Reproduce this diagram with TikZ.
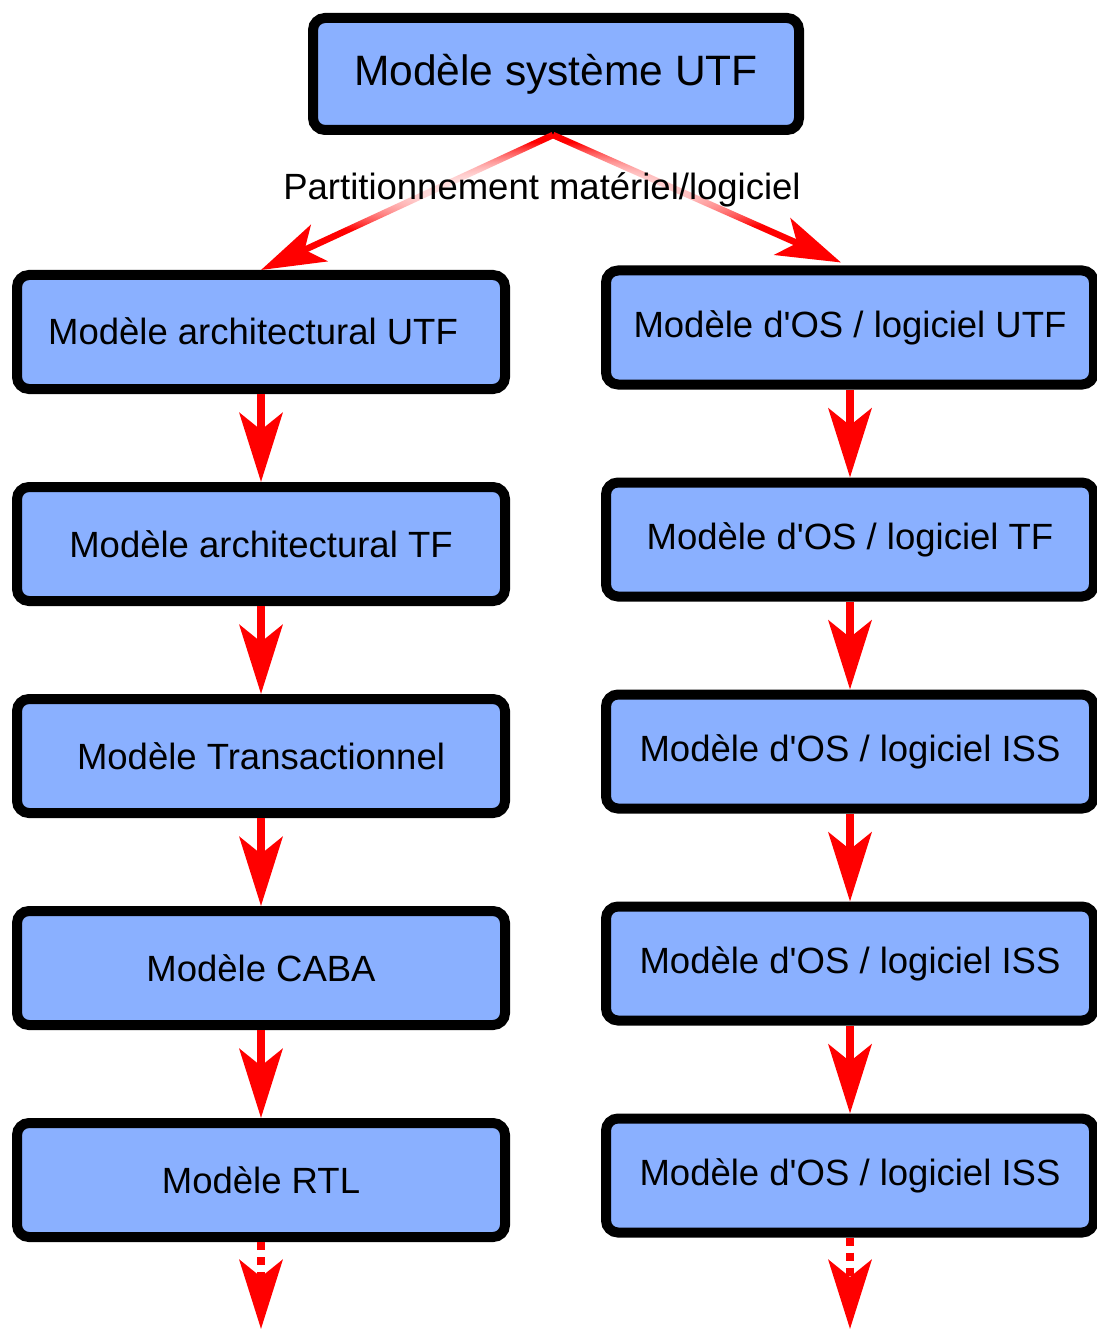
\documentclass[tikz,border=0pt]{standalone}
\usepackage{fontspec}
\setmainfont{Liberation Sans}
\usetikzlibrary{arrows.meta,fadings}
\definecolor{boxblue}{RGB}{138,176,255}
\tikzfading[name=halo, inner color=transparent!0, outer color=transparent!100]
\begin{document}
\begin{tikzpicture}[x=1pt,y=-1pt,
  box/.style={draw=black, line width=10pt, fill=boxblue, rounded corners=12pt,
    minimum width=488pt, minimum height=114pt, inner sep=0pt,
    font=\fontsize{36.5}{40}\selectfont},
  flow/.style={draw=red, line width=8pt,
    -{Stealth[length=69pt,width=43pt,inset=17pt]}},
  diag/.style={draw=red, line width=6.5pt,
    -{Stealth[length=64pt,width=40pt,inset=16pt]}},
  more/.style={flow, dash pattern=on 8pt off 7pt}]
\useasboundingbox (0,0) rectangle (1096,1329);
% top
\node[box, minimum width=486pt, minimum height=112pt, font=\fontsize{42.5}{46}\selectfont] (top) at (556,74) {Modèle système UTF};
% left column
\node[box, label={[font=\fontsize{36.5}{40}\selectfont, xshift=-8pt, yshift=1pt]center:Modèle architectural UTF}] (l1) at (261,332) {};
\node[box] (l2) at (261,544) {Modèle architectural TF};
\node[box] (l3) at (261,756) {Modèle Transactionnel};
\node[box] (l4) at (261,968) {Modèle CABA};
\node[box] (l5) at (261,1180) {Modèle RTL};
% right column
\node[box] (r1) at (850,327.5) {Modèle d\textquotesingle OS / logiciel UTF};
\node[box] (r2) at (850,539.5) {Modèle d\textquotesingle OS / logiciel TF};
\node[box] (r3) at (850,751.5) {Modèle d\textquotesingle OS / logiciel ISS};
\node[box] (r4) at (850,963.5) {Modèle d\textquotesingle OS / logiciel ISS};
\node[box] (r5) at (850,1175.5) {Modèle d\textquotesingle OS / logiciel ISS};
\coordinate (lend) at (261,1329);
\coordinate (rend) at (850,1329);
\coordinate (topout) at ([xshift=-3pt]top.south);
% diagonal arrows
\draw[diag] (topout) -- (l1.north);
\draw[diag] (topout) -- ([xshift=-9pt,yshift=3pt]r1.north);
% label with soft white halo
\fill[white, path fading=halo] (250,142) rectangle (834,242);
\fill[white, path fading=halo] (250,142) rectangle (834,242);
\node[font=\fontsize{36.5}{40}\selectfont, inner sep=0pt] (lab) at (542,190) {Partitionnement matériel/logiciel};
% vertical arrows
\draw[flow] (l1.south) -- (l2.north);
\draw[flow] (l2.south) -- (l3.north);
\draw[flow] (l3.south) -- (l4.north);
\draw[flow] (l4.south) -- (l5.north);
\draw[more] (l5.south) -- (lend);
\draw[flow] (r1.south) -- (r2.north);
\draw[flow] (r2.south) -- (r3.north);
\draw[flow] (r3.south) -- (r4.north);
\draw[flow] (r4.south) -- (r5.north);
\draw[more] (r5.south) -- (rend);
\end{tikzpicture}
\end{document}
